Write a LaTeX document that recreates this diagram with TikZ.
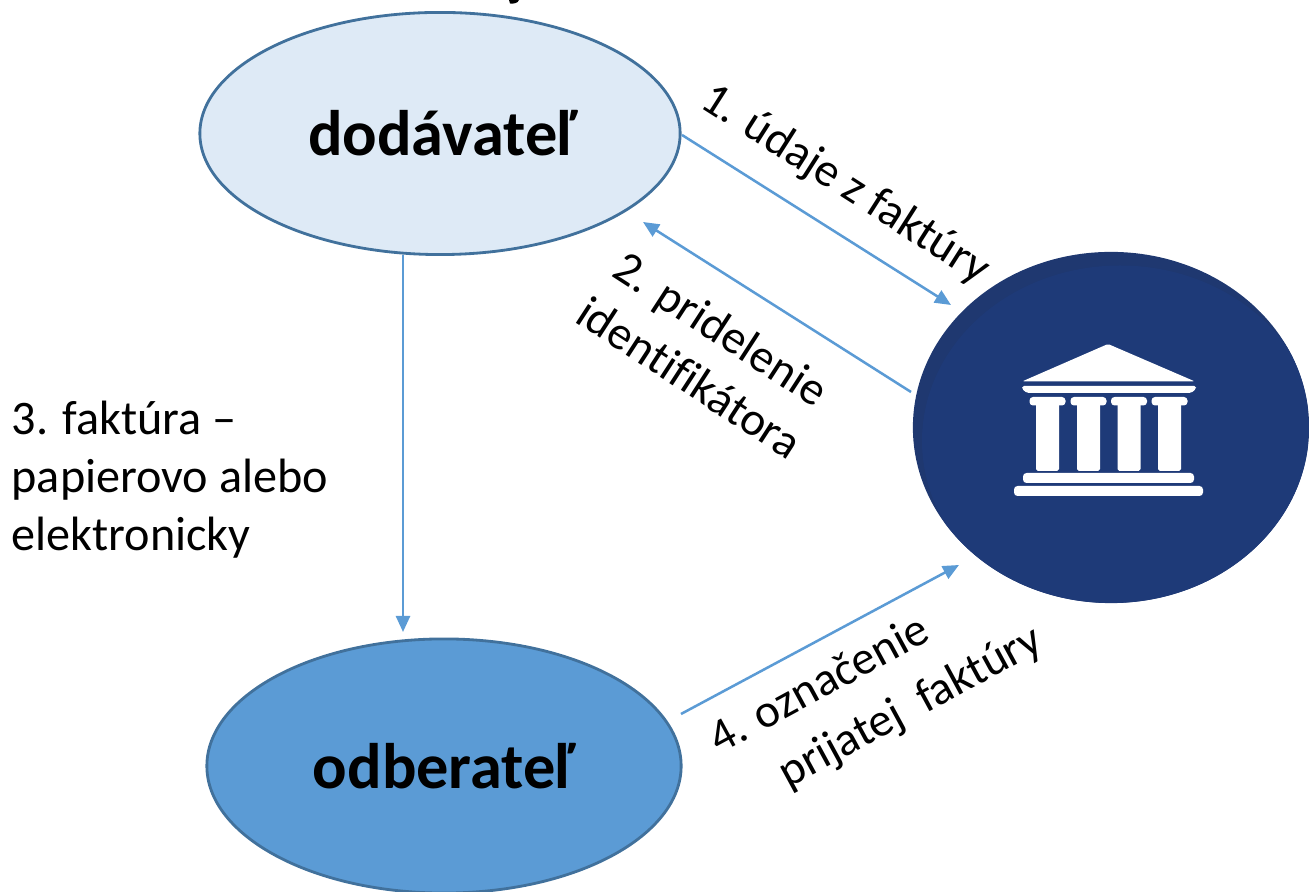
\documentclass[tikz,border=0pt]{standalone}
\usepackage{fontspec}
\setmainfont{Carlito}[Ligatures={TeX,NoCommon}]
\usetikzlibrary{shapes.geometric,arrows.meta}
\definecolor{rim}{HTML}{41719C}
\definecolor{pale}{HTML}{DEEAF6}
\definecolor{mid}{HTML}{5B9BD5}
\definecolor{navy}{HTML}{1E3A78}
\definecolor{navydark}{HTML}{1F3870}
\tikzset{
  party/.style={ellipse,draw=rim,line width=0.8pt,inner sep=0pt,font=\fontsize{18.3}{22}\selectfont\bfseries,text=black},
  flow/.style={draw=mid,line width=0.72pt,-{Triangle[length=1.6mm,width=1.4mm]}},
  lbl/.style={font=\fontsize{13.7}{16.5}\selectfont,text=black,inner sep=0pt},
  tilted/.style={lbl,font=\fontsize{13.4}{16.5}\selectfont},
  temple/.style={fill=white,draw=none,rounded corners=0.5pt},
  x=0.01cm,y=-0.01cm
}
\begin{document}
\begin{tikzpicture}
\useasboundingbox (0,0) rectangle (1309,892);
\clip (0,0) rectangle (1309,892);
% stray descender at the top edge
\fill[black] (509,0) -- (519,0) .. controls (518,3) and (514,4) .. (510,3.5) -- cycle;
\node[party,fill=pale,minimum width=4.8cm,minimum height=2.42cm] (dod) at (440,133.5) {\hspace*{1.5pt}dodávateľ};
\node[party,fill=mid,minimum width=4.74cm,minimum height=2.54cm] (odb) at (444,766) {odberateľ};
\node[ellipse,fill=navydark,inner sep=0pt,minimum width=3.96cm,minimum height=3.51cm] (bank) at (1111,427.5) {};
\begin{scope}
\clip (1111,427.5) ellipse [x radius=198,y radius=175.5];
\fill[navy] (1120,441) ellipse [x radius=198,y radius=175.5];
\end{scope}
% temple
\fill[temple] (1108,344) -- (1195,381.5) -- (1022,381.5) -- cycle;
\fill[temple] (1022,386) -- (1196,386) -- (1196,389) -- (1191,393) -- (1027,393) -- (1022,389) -- cycle;
\foreach \cx in {1047.5,1088.5,1129,1169.5}{
  \fill[temple,rounded corners=1pt] (\cx-18,397) rectangle (\cx+18,405.5);
  \fill[temple] (\cx-11.5,400) rectangle (\cx+11.5,471);
}
\fill[temple,rounded corners=1pt] (1023,473) rectangle (1194,483);
\fill[temple,rounded corners=1pt] (1014,486) rectangle (1203,496);
% connector ends
\coordinate (a1) at (682,135);
\coordinate (b1) at (951,305);
\coordinate (a2) at (911,392);
\coordinate (b2) at (643,222);
\coordinate (a3) at (403,255);
\coordinate (b3) at (403,632);
\coordinate (a4) at (681,714);
\coordinate (b4) at (959,565);
\draw[flow] (a1) -- (b1);
\draw[flow] (a2) -- (b2);
\draw[flow] (a3) -- (b3);
\draw[flow] (a4) -- (b4);
% labels
\node[tilted,rotate=-32.5] (t1) at (845,185) {1. údaje z faktúry};
\node[tilted,rotate=-33,align=center] (t2) at (706,353) {2. pridelenie\\iden\kern0pt t\kern0pt ifikátora};
\node[lbl,align=left,anchor=north west] (t3) at (11,400) {3. faktúra --\\papierovo alebo\\elektronicky};
\node[tilted,rotate=28.5] (t4a) at (818,683) {4. označenie};
\node[tilted,rotate=28.5] (t4b) at (911,708) {prijatej\ \ faktúry};
\end{tikzpicture}
\end{document}
